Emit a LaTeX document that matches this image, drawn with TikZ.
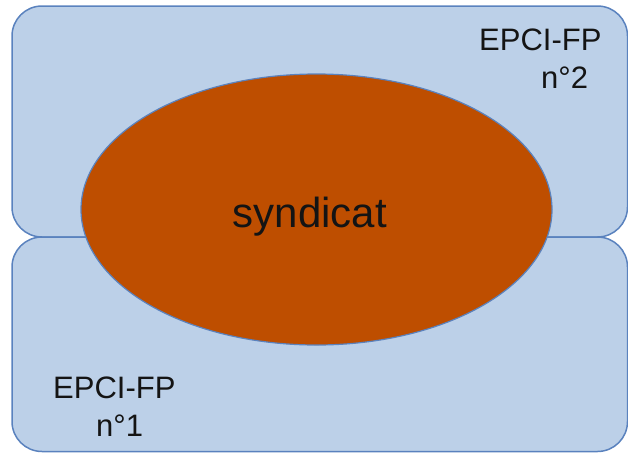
\documentclass[tikz,border=0pt]{standalone}
\usepackage{fontspec}
\setmainfont{Liberation Sans}
\usetikzlibrary{shapes.geometric}
\definecolor{areafill}{RGB}{188,208,232}
\definecolor{arealine}{RGB}{90,130,190}
\definecolor{syndfill}{RGB}{190,78,0}
\definecolor{inktext}{RGB}{20,20,20}
\begin{document}
\begin{tikzpicture}[x=1pt,y=-1pt,
  area/.style={draw=arealine, fill=areafill, line width=1.5pt, rounded corners=30pt},
  synd/.style={ellipse, draw=arealine, fill=syndfill, line width=1.2pt,
    minimum width=471pt, minimum height=271pt, inner sep=0pt},
  biglabel/.style={text=inktext, inner sep=0pt, font=\fontsize{42}{48}\selectfont},
  smalllabel/.style={text=inktext, inner sep=0pt, anchor=base west, font=\fontsize{31}{36}\selectfont}]
  \useasboundingbox (0,0) rectangle (628,453);
  % the two EPCI-FP territories
  \draw[area] (12,6) rectangle (627.5,237);
  \draw[area] (12,237) rectangle (627.5,451.5);
  % the syndicate overlapping both
  \node[synd] (syndicat) at (316.5,209.5) {};
  \node[biglabel, anchor=base] (syndlabel) at (310,227) {syndicat};
  % territory labels
  \node[smalllabel] (epci2a) at (479,50) {EPCI-FP};
  \node[smalllabel] (epci2b) at (541,88) {n°2};
  \node[smalllabel] (epci1a) at (53,398) {EPCI-FP};
  \node[smalllabel] (epci1b) at (96,436) {n°1};
\end{tikzpicture}
\end{document}
